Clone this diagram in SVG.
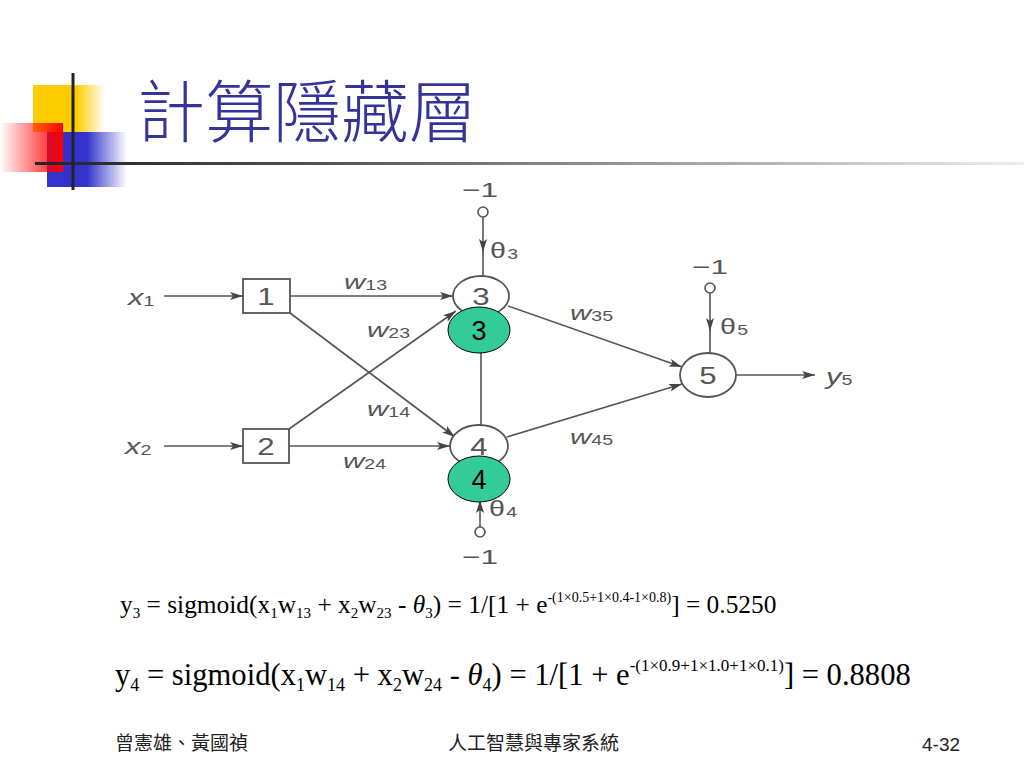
<svg xmlns="http://www.w3.org/2000/svg" width="1024" height="768" viewBox="0 0 1024 768">
<style>
.ln{stroke:#555;stroke-width:1.6;fill:none}
.nd{stroke:#555;stroke-width:1.8;fill:#fff}
.lb{font-family:"Liberation Sans",Arial,sans-serif;fill:#555}
.it{font-style:italic}
.mid{text-anchor:middle}
.gr{fill:#33CC99;stroke:#000;stroke-width:1}
.gt{font-family:"Liberation Sans",Arial,sans-serif;font-size:27px;fill:#000;text-anchor:middle}
.fm{font-family:"Liberation Serif","Times New Roman",serif;fill:#000}
.ft{font-family:"Noto Sans CJK TC","Noto Sans CJK SC",sans-serif;fill:#222;font-size:19px}
</style>
<defs>
<marker id="ah" viewBox="0 0 13 8" refX="13" refY="4" markerWidth="13" markerHeight="8" markerUnits="userSpaceOnUse" orient="auto">
<path d="M0,0 L13,4 L0,8 L3,4 Z" fill="#444"/>
</marker>
<linearGradient id="gy" x1="0" y1="0" x2="1" y2="0">
<stop offset="0" stop-color="#FFCC00"/><stop offset="0.6" stop-color="#FFCC00"/><stop offset="1" stop-color="#FFCC00" stop-opacity="0"/>
</linearGradient>
<linearGradient id="gb" x1="0" y1="0" x2="1" y2="0">
<stop offset="0" stop-color="#3333CC"/><stop offset="0.5" stop-color="#3333CC"/><stop offset="1" stop-color="#3333CC" stop-opacity="0"/>
</linearGradient>
<linearGradient id="grd" x1="0" y1="0" x2="1" y2="0">
<stop offset="0" stop-color="#FF0000" stop-opacity="0"/><stop offset="1" stop-color="#FF0000"/>
</linearGradient>
<linearGradient id="gl" x1="0" y1="0" x2="1" y2="0">
<stop offset="0" stop-color="#222"/><stop offset="0.3" stop-color="#555"/><stop offset="1" stop-color="#eee"/>
</linearGradient>
</defs>
<rect width="1024" height="768" fill="#fff"/>

<g id="logo">
<rect x="33" y="85" width="72" height="47" fill="url(#gy)"/>
<rect x="47" y="132" width="80" height="55" fill="url(#gb)"/>
<rect x="0" y="123" width="63" height="49" fill="url(#grd)"/>
<rect x="35" y="162" width="989" height="3" fill="url(#gl)"/>
<rect x="71.5" y="73" width="3" height="117" fill="#222"/>
</g>
<text id="title" x="137" y="137" font-family="Noto Sans CJK TC,Noto Sans CJK SC,sans-serif" font-size="68" font-weight="300" fill="#333399">計算隱藏層</text>

<g id="connectors">
<line class="ln" x1="164" y1="296" x2="243" y2="296" marker-end="url(#ah)"/>
<line class="ln" x1="164" y1="446" x2="243" y2="446" marker-end="url(#ah)"/>
<line class="ln" x1="290" y1="296" x2="453" y2="296" marker-end="url(#ah)"/>
<line class="ln" x1="289" y1="446" x2="450" y2="446" marker-end="url(#ah)"/>
<line class="ln" x1="290" y1="313" x2="455" y2="437" marker-end="url(#ah)"/>
<line class="ln" x1="289" y1="429" x2="456" y2="311" marker-end="url(#ah)"/>
<line class="ln" x1="481" y1="316" x2="481" y2="425"/>
<line class="ln" x1="508" y1="306" x2="682" y2="367" marker-end="url(#ah)"/>
<line class="ln" x1="507" y1="437" x2="682" y2="384" marker-end="url(#ah)"/>
<line class="ln" x1="736" y1="375" x2="815" y2="375" marker-end="url(#ah)"/>
<line class="ln" x1="483" y1="217" x2="483" y2="252" marker-end="url(#ah)"/>
<line class="ln" x1="483" y1="250" x2="483" y2="276"/>
<line class="ln" x1="480" y1="527" x2="480" y2="500" marker-end="url(#ah)"/>
<line class="ln" x1="480" y1="502" x2="480" y2="467"/>
<line class="ln" x1="710" y1="293" x2="710" y2="331" marker-end="url(#ah)"/>
<line class="ln" x1="710" y1="329" x2="710" y2="353"/>
<circle class="ln" cx="483" cy="212" r="5"/>
<circle class="ln" cx="480" cy="532" r="5"/>
<circle class="ln" cx="710" cy="288" r="5"/>
</g>

<g id="labels" class="lb">
<text transform="translate(128,305) scale(1.4,1)" font-size="22"><tspan class="it">x</tspan><tspan font-size="14" dy="1">1</tspan></text>
<text transform="translate(125,454) scale(1.4,1)" font-size="22"><tspan class="it">x</tspan><tspan font-size="14" dy="1">2</tspan></text>
<text transform="translate(344,289) scale(1.4,1)" font-size="21"><tspan class="it">w</tspan><tspan font-size="14" dy="1">13</tspan></text>
<text transform="translate(367,337) scale(1.4,1)" font-size="21"><tspan class="it">w</tspan><tspan font-size="14" dy="1">23</tspan></text>
<text transform="translate(367,416) scale(1.4,1)" font-size="21"><tspan class="it">w</tspan><tspan font-size="14" dy="1">14</tspan></text>
<text transform="translate(343,468) scale(1.4,1)" font-size="21"><tspan class="it">w</tspan><tspan font-size="14" dy="1">24</tspan></text>
<text transform="translate(570,320) scale(1.4,1)" font-size="21"><tspan class="it">w</tspan><tspan font-size="14" dy="1">35</tspan></text>
<text transform="translate(570,444) scale(1.4,1)" font-size="21"><tspan class="it">w</tspan><tspan font-size="14" dy="1">45</tspan></text>
<text transform="translate(826,384) scale(1.4,1)" font-size="22"><tspan class="it">y</tspan><tspan font-size="14" dy="1">5</tspan></text>
<text transform="translate(490,258) scale(1.3,1)" font-size="22">θ<tspan font-size="15" dx="1" dy="1">3</tspan></text>
<text transform="translate(489,516) scale(1.3,1)" font-size="22">θ<tspan font-size="15" dx="1" dy="1">4</tspan></text>
<text transform="translate(720,334) scale(1.3,1)" font-size="22">θ<tspan font-size="15" dx="1" dy="1">5</tspan></text>
<text class="mid" transform="translate(480,197) scale(1.5,1)" font-size="21">−1</text>
<text class="mid" transform="translate(480,564) scale(1.5,1)" font-size="21">−1</text>
<text class="mid" transform="translate(710,274) scale(1.5,1)" font-size="21">−1</text>
</g>

<g id="node1"><rect class="nd" x="243" y="279" width="47" height="34"/><text class="lb mid" transform="translate(266,305) scale(1.3,1)" font-size="24">1</text></g>
<g id="node2"><rect class="nd" x="243" y="429" width="46" height="34"/><text class="lb mid" transform="translate(266,455) scale(1.3,1)" font-size="24">2</text></g>
<g id="node3"><ellipse class="nd" cx="481" cy="296" rx="28" ry="20"/><text class="lb mid" transform="translate(481,305) scale(1.3,1)" font-size="24">3</text></g>
<g id="node4"><ellipse class="nd" cx="479" cy="446" rx="29" ry="21"/><text class="lb mid" transform="translate(479,455) scale(1.3,1)" font-size="24">4</text></g>
<g id="node5"><ellipse class="nd" cx="708" cy="375" rx="28" ry="22"/><text class="lb mid" transform="translate(708,384) scale(1.3,1)" font-size="24">5</text></g>

<g id="badge3"><ellipse class="gr" cx="479" cy="330" rx="31" ry="23"/><text class="gt" x="479" y="340">3</text></g>
<g id="badge4"><ellipse class="gr" cx="479" cy="479" rx="31" ry="23"/><text class="gt" x="479" y="489">4</text></g>

<text id="formula1" class="fm" x="120" y="613" font-size="25.4">y<tspan font-size="15" dy="5">3</tspan><tspan dy="-5"> = sigmoid(x</tspan><tspan font-size="15" dy="5">1</tspan><tspan dy="-5">w</tspan><tspan font-size="15" dy="5">13</tspan><tspan dy="-5"> + x</tspan><tspan font-size="15" dy="5">2</tspan><tspan dy="-5">w</tspan><tspan font-size="15" dy="5">23</tspan><tspan dy="-5"> - </tspan><tspan font-style="italic">θ</tspan><tspan font-size="15" dy="5">3</tspan><tspan dy="-5">) = 1/[1 + e</tspan><tspan font-size="14" dy="-11">-(1×0.5+1×0.4-1×0.8)</tspan><tspan dy="11">] = 0.5250</tspan></text>

<text id="formula2" class="fm" x="115" y="685" font-size="30.6">y<tspan font-size="18" dy="6">4</tspan><tspan dy="-6"> = sigmoid(x</tspan><tspan font-size="18" dy="6">1</tspan><tspan dy="-6">w</tspan><tspan font-size="18" dy="6">14</tspan><tspan dy="-6"> + x</tspan><tspan font-size="18" dy="6">2</tspan><tspan dy="-6">w</tspan><tspan font-size="18" dy="6">24</tspan><tspan dy="-6"> - </tspan><tspan font-style="italic">θ</tspan><tspan font-size="18" dy="6">4</tspan><tspan dy="-6">) = 1/[1 + e</tspan><tspan font-size="17" dy="-14">-(1×0.9+1×1.0+1×0.1)</tspan><tspan dy="14">] = 0.8808</tspan></text>

<g id="footer">
<text class="ft" x="115" y="750">曾憲雄、黃國禎</text>
<text class="ft" x="448" y="750" font-size="20">人工智慧與專家系統</text>
<text x="922" y="751" font-family="Liberation Sans,Arial,sans-serif" font-size="19" fill="#222">4-32</text>
</g>
</svg>
